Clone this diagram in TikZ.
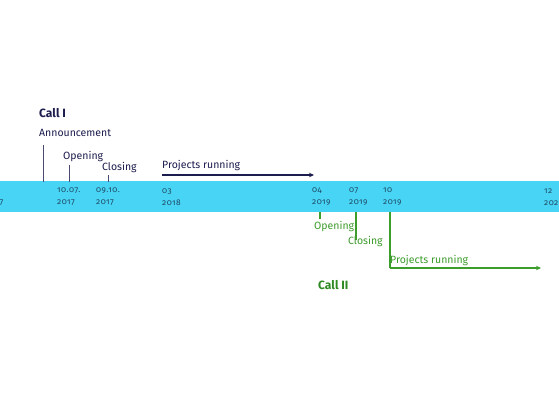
\documentclass[tikz,border=0pt]{standalone}
\usepackage{fontspec}
\setmainfont{Fira Sans}[Numbers=OldStyle]
\usetikzlibrary{arrows.meta}
\definecolor{band}{HTML}{48D4F4}
\definecolor{navy}{HTML}{1C1C4E}
\definecolor{datec}{HTML}{1E4A66}
\definecolor{callg}{HTML}{3C9C2C}
\definecolor{callgd}{HTML}{2E8A22}
\tikzset{
  lbl/.style={anchor=west, inner sep=0pt, font=\fontsize{10.5}{12}\selectfont},
  one/.style={lbl, text=navy},
  two/.style={lbl, text=callg},
  callhead/.style={anchor=west, inner sep=0pt, font=\fontsize{12}{14}\selectfont\bfseries},
  datelbl/.style={anchor=west, inner sep=0pt, align=left, text=datec, font=\fontsize{8.3}{12}\selectfont\addfontfeatures{LetterSpace=6}},
  tickone/.style={draw=navy!80, line width=0.7pt},
  ticktwo/.style={draw=callg, line width=1.1pt},
  runone/.style={draw=navy, line width=1.3pt, -{Stealth[length=5pt,width=4.5pt]}},
  runtwo/.style={draw=callg, line width=1.2pt, -{Stealth[length=5pt,width=4.5pt]}},
}
\begin{document}
\begin{tikzpicture}[x=1pt,y=-1pt]
\useasboundingbox[fill=white] (0,0) rectangle (559,400);
% band
\fill[band] (0,181) rectangle (559,212);
% dates
\node[datelbl] (d0) at (-0.5,203) {7};
\node[datelbl] (d1) at (57,197) {10.07.\\2017};
\node[datelbl] (d2) at (96,197) {09.10.\\2017};
\node[datelbl] (d3) at (162,197) {03\\2018};
\node[datelbl] (d4) at (312,197) {04\\2019};
\node[datelbl] (d5) at (349,197) {07\\2019};
\node[datelbl] (d6) at (383,197) {10\\2019};
\node[datelbl] (d7) at (544,197) {12\\202};
% Call I
\node[callhead, text=navy] (c1) at (39,113) {Call I};
\node[one] (ann) at (39,133) {Announcement};
\node[one] (op1) at (63,157) {Opening};
\node[one] (cl1) at (102,168) {Closing};
\node[one] (pr1) at (162,166) {Projects running};
\coordinate (a1) at (43,145); \coordinate (a2) at (43,182);
\coordinate (o1) at (69,165); \coordinate (o2) at (69,182);
\coordinate (k1) at (108,175); \coordinate (k2) at (108,182);
\coordinate (r1) at (162,175); \coordinate (r2) at (314,175);
\draw[tickone] (a1) -- (a2);
\draw[tickone] (o1) -- (o2);
\draw[tickone] (k1) -- (k2);
\draw[runone] (r1) -- (r2);
% Call II
\node[two] (op2) at (314,227) {Opening};
\node[two] (cl2) at (348,242) {Closing};
\node[two] (pr2) at (390,261) {Projects running};
\node[callhead, text=callgd] (c2) at (318,285) {Call II};
\coordinate (p1) at (320,212); \coordinate (p2) at (320,219);
\coordinate (q1) at (356,212); \coordinate (q2) at (356,240);
\coordinate (s1) at (390,212); \coordinate (s2) at (390,268);
\coordinate (s3) at (541,268);
\draw[ticktwo] (p1) -- (p2);
\draw[ticktwo] (q1) -- (q2);
\draw[ticktwo] (s1) -- (s2);
\draw[runtwo] (s2) -- (s3);
\end{tikzpicture}
\end{document}
